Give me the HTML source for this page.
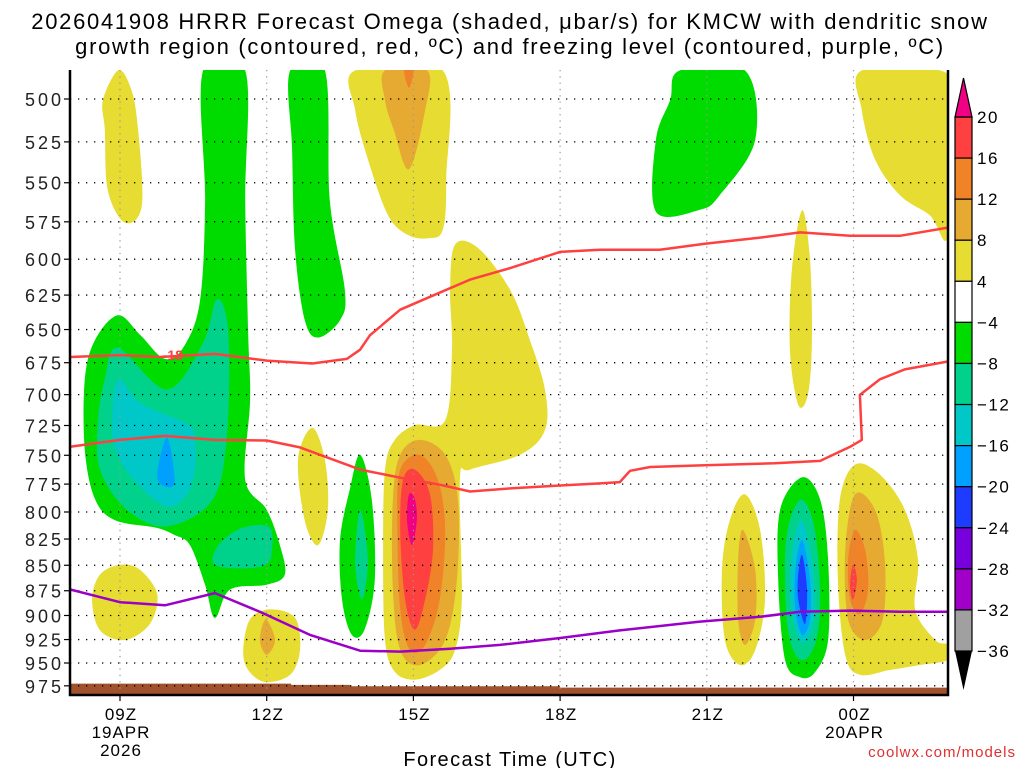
<!DOCTYPE html>
<html><head><meta charset="utf-8"><style>
html,body{margin:0;padding:0;background:#fff;}
svg{display:block;font-family:"Liberation Sans","DejaVu Sans",sans-serif;}
</style></head><body>
<svg id="chart" width="1024" height="768" viewBox="0 0 1024 768" xmlns="http://www.w3.org/2000/svg">
<text x="510" y="29" font-size="22" letter-spacing="1.7" text-anchor="middle" fill="#000">2026041908 HRRR Forecast Omega (shaded, μbar/s) for KMCW with dendritic snow</text>
<text x="510" y="54" font-size="22" letter-spacing="1.7" text-anchor="middle" fill="#000">growth region (contoured, red, ºC) and freezing level (contoured, purple, ºC)</text>
<g id="fills"></g>
<g id="grid"></g>
<g id="lines"></g>
<g id="axes"></g>
<g id="cbar"></g>
<text x="510" y="766" font-size="20" letter-spacing="1.4" text-anchor="middle" fill="#000">Forecast Time (UTC)</text>
<text x="1016" y="757" font-size="15" text-anchor="end" fill="#e03030" letter-spacing="1">coolwx.com/models</text>
</svg>
<script>
// ---- data ----
const pressureTicks=[500,525,550,575,600,625,650,675,700,725,750,775,800,825,850,875,900,925,950,975];
const timeTickHours=[0,3,6,9,12,15];
const timeTickLabels=[["09Z","19APR","2026"],["12Z"],["15Z"],["18Z"],["21Z"],["00Z","20APR"]];
const cbarLevels=[20,16,12,8,4,-4,-8,-12,-16,-20,-24,-28,-32,-36];
const cbarColors=["#ff4040","#f08228","#e6aa32","#e6dc32","#ffffff","#00dc00","#00d28c","#00c8c8","#00a0ff","#1e3cff","#7800dc","#a000c8","#a0a0a0"];
// shaded regions: color index per region + outline [hour since 09Z, hPa]
const regionLevels=[3,5,6,7,8,6,3,3,2,5,3,2,1,3,2,1,0,"m",5,6,3,5,3,3,3,2,5,6,7,8,9,3,2,1,0];
const regionShapes=[
[[-0.04,484],[0.2,492.4],[0.35,512.4],[0.45,563.6],[0.1,575.5],[-0.25,554.8],[-0.31,517.9],[-0.35,500.7]],
[[1.70,484],[2.56,484],[2.56,561.2],[2.62,650.6],[2.66,704.2],[2.56,771.2],[3.0,797.9],[3.27,830.7],[3.37,859.1],[3.0,869],[2.25,873.8],[1.94,902.5],[1.74,869],[1.43,830.7],[1.12,821.3],[0.72,814.2],[-0.1,807.6],[-0.51,788.5],[-0.72,745.5],[-0.72,687.9],[-0.51,657.7],[-0.04,639.5],[0.41,653.9],[0.92,672.1],[1.33,661.4],[1.64,628],[1.74,561.2]],
[[-0.04,663.7],[0.96,695.9],[1.70,659.8],[1.98,628],[2.21,650.6],[2.19,730.9],[1.90,788.5],[0.96,813.2],[0.14,797.9],[-0.41,762.3],[-0.45,720.8],[-0.31,687.9]],
[[-0.04,687.9],[0.41,706.6],[1.37,723.8],[1.53,737],[1.53,762.3],[1.37,784.1],[0.96,795.2],[0.35,774.4],[-0.06,748.6],[-0.16,723.8]],
[[0.96,735],[1.12,771.2],[0.96,777.6],[0.76,767.8]],
[[1.98,833],[2.45,815.5],[3.03,813.2],[3.11,833],[2.93,850.7],[1.98,850.7]],
[[-0.57,883.7],[-0.41,859.1],[0,849.5],[0.41,854.3],[0.76,878.6],[0.61,908.8],[0.1,925.5],[-0.41,915.2]],
[[2.52,936],[2.66,903.8],[3.07,893.8],[3.58,902.5],[3.68,936],[3.48,962.8],[2.97,970.9],[2.62,957.5]],
[[2.98,903.8],[3.17,925.5],[3.0,941.3],[2.86,925.5]],
[[3.48,484],[4.19,484],[4.29,561.2],[4.6,621.8],[4.5,643.1],[4.05,655.9],[3.78,643.1],[3.58,593.6],[3.52,529.7]],
[[4.81,484],[6.6,484],[6.67,548.4],[6.6,580.4],[6.3,585.8],[5.89,583.7],[5.48,570.7],[5.07,535.6],[4.81,506.4]],
[[5.42,484],[6.28,484],[6.24,506.4],[5.91,541.6],[5.6,517.9],[5.42,500.7]],
[[5.81,484],[6.0,484],[5.91,493.7]],
[[6.85,590.2],[7.32,592.3],[7.98,621.4],[8.38,657.7],[8.69,695.9],[8.69,728.9],[8.18,749.6],[7.16,762.3],[6.95,771.2],[6.99,883.7],[6.85,936],[6.54,957.5],[6.03,968.2],[5.62,959.6],[5.42,925.5],[5.38,835.4],[5.42,762.3],[5.62,737],[6.03,724.7],[6.65,720.8],[6.79,665.1],[6.75,621.4]],
[[5.73,749.6],[6.13,737],[6.65,749.6],[6.91,788.5],[6.89,864.1],[6.65,925.5],[6.13,952.2],[5.73,936],[5.58,873.8],[5.58,788.5]],
[[5.73,762.3],[6.13,749.6],[6.5,771.2],[6.65,816.6],[6.54,883.7],[6.24,930.7],[5.93,936],[5.73,893.8],[5.67,807.6]],
[[5.79,771.2],[6.03,762.3],[6.34,784.1],[6.4,835.4],[6.24,883.7],[6.03,914.7],[5.83,883.7],[5.73,816.6]],
[[5.91,784.1],[6.03,788.5],[6.07,807.6],[5.97,830.7],[5.87,807.6]],
[[4.91,749.6],[5.15,789],[5.21,864.1],[5.0,914.7],[4.74,920],[4.54,883.7],[4.5,826],[4.7,779.6]],
[[4.91,797.9],[5.07,844.7],[4.95,883.7],[4.81,849]],
[[3.93,726.8],[4.19,753.9],[4.25,797.9],[4.05,830.7],[3.78,808],[3.64,753.9]],
[[11.45,484],[12.78,484],[12.99,523.7],[12.27,557.6],[11.86,567.2],[10.96,568.4],[10.96,523.7],[11.25,500.7]],
[[15.17,484],[16.77,484],[16.93,500.7],[16.93,583.7],[16.56,570.7],[15.95,557.9],[15.44,535.6],[15.17,506.4]],
[[13.95,567.5],[14.11,600.3],[14.15,657.7],[14.07,699.7],[13.87,708.2],[13.7,665.1],[13.74,607.1]],
[[12.78,784.1],[13.09,816.6],[13.19,883.7],[12.99,936],[12.68,952.2],[12.37,925.5],[12.31,854.3],[12.47,807.6]],
[[12.74,816.6],[12.99,854.3],[12.99,903.8],[12.78,930.7],[12.64,903.8],[12.64,844.7]],
[[13.95,769],[14.32,789],[14.48,844.7],[14.48,925.5],[14.21,960.2],[13.91,965.5],[13.6,946.6],[13.46,864.1],[13.5,797.9]],
[[13.95,789],[14.21,816.6],[14.32,883.7],[14.21,930.7],[13.91,946.6],[13.66,915.2],[13.6,844.7],[13.7,807.6]],
[[13.95,807.6],[14.15,844.7],[14.21,893.8],[14.07,925.5],[13.85,920.3],[13.7,873.8],[13.77,830.7]],
[[13.95,826],[14.11,864.1],[14.11,903.8],[13.95,920.3],[13.81,893.8],[13.81,854.3]],
[[13.95,840.1],[14.05,873.8],[14.01,908.8],[13.87,883.7],[13.87,859.1]],
[[15.03,758],[15.54,766.7],[16.05,797.9],[16.32,844.7],[16.26,893.8],[16.67,925.5],[16.93,930.7],[16.93,946.6],[16.36,952.2],[15.75,957.5],[15.13,962.8],[14.83,941.3],[14.68,864.1],[14.72,789]],
[[15.03,784.1],[15.44,797.9],[15.64,844.7],[15.6,903.8],[15.24,925.5],[14.89,903.8],[14.83,835.4]],
[[15.03,816.6],[15.24,835.4],[15.3,873.8],[15.13,898.8],[14.93,883.7],[14.89,844.7]],
[[14.99,849.5],[15.07,864.1],[14.99,883.7],[14.93,869]]
];
const dgzTopHours=[-1.02,0,0.82,1.94,3,3.93,4.64,4.91,5.11,5.73,6.34,7.16,7.98,9.0,9.82,11.04,11.96,13.09,13.91,14.93,15.95,16.93];
const dgzTopP=[670.6,669.2,670.6,668.3,673.4,675.6,672.1,665.1,654.3,635.5,626.2,614.1,606.1,595,593.6,593.6,589.5,585.4,582,584.2,584.2,578.8];
const dgzBotHours=[-1.02,0,0.92,1.94,3,3.68,4.09,4.91,5.73,6.54,7.16,7.98,9.0,9.82,10.22,10.43,10.84,11.96,13.39,14.32,14.93,15.17,15.13,15.54,16.05,16.93];
const dgzBotP=[742.8,737,733.6,737,737.5,743.3,749.6,762.3,769.4,775.5,781.6,778.8,776.2,774.4,773.2,763.4,760.1,758.6,756.9,754.8,742.8,737,700.2,687.9,680.2,674.1];
const frzHours=[-1.02,0,0.92,1.94,2.86,3.88,4.91,5.73,6.75,7.77,9.0,10.22,11.86,13.09,13.91,14.93,15.95,16.93];
const frzP=[873.8,886.5,889.6,877.4,896.2,920,936.8,937.8,934.7,930.6,923.4,915.4,906.3,901.3,896.2,895,896.2,896.2];
const sfcHours=[-1.02,3.5,3.5,4.7,4.7,9.0,9.0,16.93];
const sfcP=[972.5,972.5,974,974,975.5,975.5,977,977];

// ---- axes ----
const X0=70,X1=948,Y0=70,Y1=695;
const x=h=>120+h*48.9;
const y=p=>99+878.7*Math.log(p/500);
const NS="http://www.w3.org/2000/svg";
function mk(tag,attrs,parent){const e=document.createElementNS(NS,tag);for(const k in attrs)e.setAttribute(k,attrs[k]);parent.appendChild(e);return e;}
function smoothPath(pts){
  const P=pts.map(q=>[x(q[0]),y(q[1])]);const n=P.length;let d=`M${P[0][0].toFixed(1)},${P[0][1].toFixed(1)}`;
  for(let i=0;i<n;i++){const p0=P[(i-1+n)%n],p1=P[i],p2=P[(i+1)%n],p3=P[(i+2)%n];
    const c1=[p1[0]+(p2[0]-p0[0])/6,p1[1]+(p2[1]-p0[1])/6],c2=[p2[0]-(p3[0]-p1[0])/6,p2[1]-(p3[1]-p1[1])/6];
    d+=`C${c1[0].toFixed(1)},${c1[1].toFixed(1)} ${c2[0].toFixed(1)},${c2[1].toFixed(1)} ${p2[0].toFixed(1)},${p2[1].toFixed(1)}`;}
  return d+"Z";
}
const svg=document.getElementById('chart');
const defs=mk('defs',{},svg);
const cp=mk('clipPath',{id:'plotclip'},defs);
mk('rect',{x:X0,y:Y0,width:X1-X0,height:Y1-Y0},cp);
const fills=document.getElementById('fills');fills.setAttribute('clip-path','url(#plotclip)');
regionShapes.forEach((s,i)=>{
  const lv=regionLevels[i];const col=lv==="m"?"#f00082":cbarColors[lv];
  const el=mk('path',{d:smoothPath(s),fill:col},fills);
  
  
});
let sd=`M${x(sfcHours[0])},${Y1}`;sfcHours.forEach((h,i)=>{sd+=`L${x(h)},${y(sfcP[i])}`});sd+=`L${X1},${Y1}Z`;
const sfc=mk('path',{d:sd,fill:'#a0522d'},fills);


const grid=document.getElementById('grid');
pressureTicks.forEach(p=>{const l=mk('line',{x1:X0,x2:X1,y1:y(p),y2:y(p),stroke:'#000','stroke-width':1.3,'stroke-dasharray':'1.3 6.7'},grid);
  
  });
timeTickHours.forEach(h=>{const l=mk('line',{x1:x(h),x2:x(h),y1:Y0,y2:Y1,stroke:'#999','stroke-width':1.2,'stroke-dasharray':'1.3 5'},grid);
  
  });
const lines=document.getElementById('lines');lines.setAttribute('clip-path','url(#plotclip)');
function poly(hs,ps,col,name){const d=hs.map((h,i)=>(i?'L':'M')+x(h).toFixed(1)+','+y(ps[i]).toFixed(1)).join('');
  const e=mk('path',{d:d,fill:'none',stroke:col,'stroke-width':2.5,'stroke-linejoin':'round'},lines);
  
  }
poly(dgzTopHours,dgzTopP,'#ff4040','dgz-upper-contour');
poly(dgzBotHours,dgzBotP,'#ff4040','dgz-lower-contour');
poly(frzHours,frzP,'#9b00c8','freezing-level-contour');
const lb=mk('text',{x:x(1.08),y:y(669)+5,'font-size':14,'font-weight':'bold',fill:'#ff4040','text-anchor':'middle'},lines);
lb.textContent='-18';


const ax=document.getElementById('axes');
mk('path',{d:`M${X0},${Y0}V${Y1}H${X1}V${Y0}`,fill:'none',stroke:'#000','stroke-width':2.5},ax);
pressureTicks.forEach(p=>{mk('line',{x1:X0-6,x2:X0,y1:y(p),y2:y(p),stroke:'#000','stroke-width':1.2},ax);
  const t=mk('text',{x:X0-6,y:y(p)+7,'font-size':18,'letter-spacing':3,'text-anchor':'end',fill:'#222'},ax);t.textContent=p;
  
  });
timeTickHours.forEach((h,i)=>{mk('line',{x1:x(h),x2:x(h),y1:Y1,y2:Y1+6,stroke:'#000','stroke-width':1.2},ax);
  timeTickLabels[i].forEach((s,j)=>{const t=mk('text',{x:x(h)+1,y:720+j*18,'font-size':17,'letter-spacing':1,'text-anchor':'middle',fill:'#000'},ax);t.textContent=s;
  
  });});
const cb=document.getElementById('cbar');const CX=955,CW=17,cy0=117,step=(651-117)/(cbarLevels.length-1);
cbarColors.forEach((c,i)=>{const r=mk('rect',{x:CX,y:cy0+i*step,width:CW,height:step,fill:c,stroke:'#000','stroke-width':1.2},cb);
  
  });
const tu=mk('path',{d:`M${CX},${cy0}L${CX+CW/2},78L${CX+CW},${cy0}Z`,fill:'#f00082',stroke:'#000','stroke-width':1.2},cb);


const td=mk('path',{d:`M${CX},651L${CX+CW/2},690L${CX+CW},651Z`,fill:'#000'},cb);


cbarLevels.forEach((v,i)=>{const t=mk('text',{x:977,y:cy0+i*step+6,'font-size':17,'letter-spacing':1.5,fill:'#000'},cb);t.textContent=(v<0?'\u2212':'')+Math.abs(v);
  
  });
</script>
</body></html>
